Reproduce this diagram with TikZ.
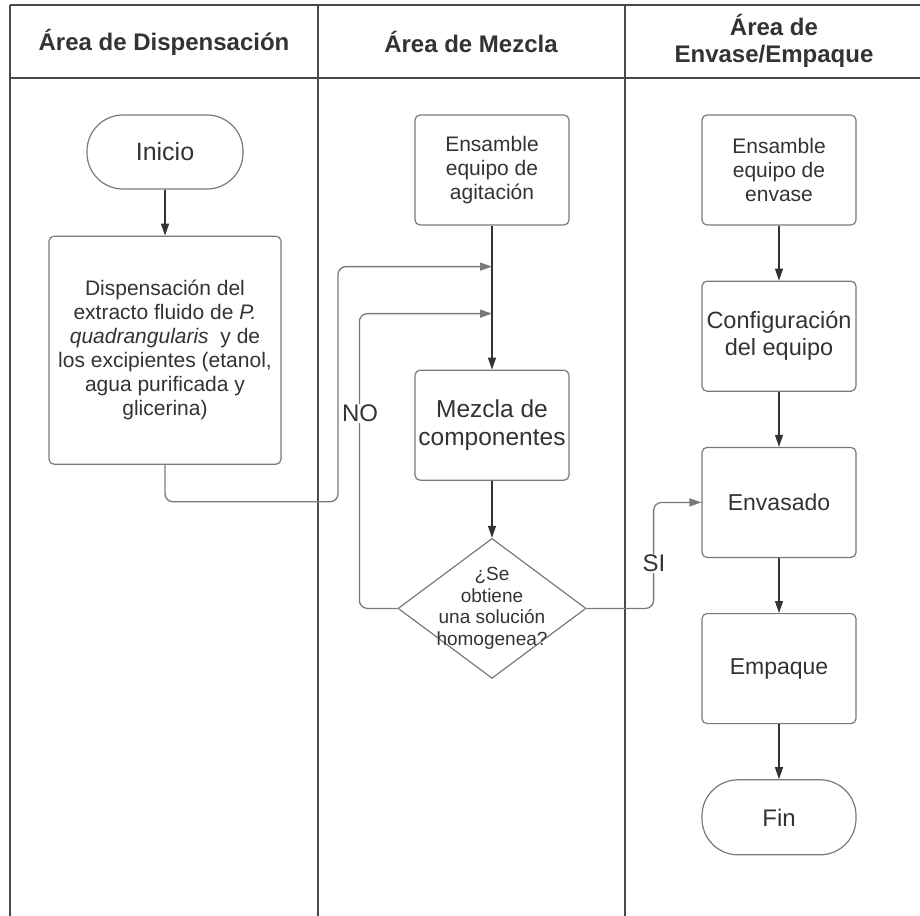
\documentclass[tikz,border=0pt]{standalone}
\usepackage{fontspec}
\setmainfont{Liberation Sans}
\usepackage{xcolor}
\usetikzlibrary{arrows.meta,positioning,shapes.geometric,calc}
\definecolor{ink}{HTML}{333333}
\definecolor{edge}{HTML}{7A7A7A}
\definecolor{lane}{HTML}{4A4A4A}

\begin{document}
\begin{tikzpicture}[
  x=1pt, y=-1pt,
  node distance=55pt,
  box/.style={draw=edge, line width=1.2pt, rounded corners=5pt, align=center,
              text=ink, minimum width=154pt, minimum height=110pt, inner sep=1pt,
              font=\fontsize{21}{24}\selectfont},
  term/.style={box, rounded corners=36pt, minimum height=75pt},
  dec/.style={diamond, draw=edge, line width=1.2pt, align=center, text=ink,
              aspect=1.34, inner sep=-8pt, minimum width=188pt, minimum height=140pt,
              font=\fontsize{19}{21.5}\selectfont},
  arr/.style={-{Triangle[length=12pt,width=8pt]}, draw=ink, line width=1.3pt},
  lp/.style={arr, draw=edge, rounded corners=8pt},
  lbl/.style={fill=white, text=ink, inner sep=1pt, font=\fontsize{24}{26}\selectfont},
  head/.style={text=ink, align=center, font=\bfseries\fontsize{24}{27}\selectfont},
  lanes/.style={draw=lane, line width=1.8pt}
]
\useasboundingbox[fill=white] (0,0) rectangle (920,915);

% swimlanes
\draw[lanes] (10,5) -- (922,5);
\draw[lanes] (10,78) -- (922,78);
\foreach \lx in {10,318,625}
  \draw[lanes] (\lx,5) -- (\lx,917);
\node[head] (h1) at (164,42) {Área de Dispensación};
\node[head] (h2) at (471,42) {Área de Mezcla};
\node[head] (h3) at (774,41) {Área de\\Envase/Empaque};

% dispensacion
\node[term, minimum width=156pt, minimum height=74pt, font=\fontsize{25}{28}\selectfont] (ini) at (165,152) {Inicio};
\node[box, minimum width=232pt, minimum height=228pt, below=46pt of ini] (disp)
  {Dispensación del\\extracto fluido de \textit{P.}\\\textit{quadrangularis}~ y de\\los excipientes (etanol,\\agua purificada y\\glicerina)};

% mezcla
\node[box] (agit) at (492,170) {Ensamble\\equipo de\\agitación};
\node[box, below=144pt of agit, font=\fontsize{24.5}{28}\selectfont] (mez) {Mezcla de\\componentes};
\node[dec, below=57pt of mez] (hom) {¿Se\\obtiene\\una solución\\homogenea?};

% envase / empaque
\node[box] (ensv) at (779,170) {Ensamble\\equipo de\\envase};
\node[box, below=of ensv, font=\fontsize{23.5}{27}\selectfont] (conf) {Configuración\\del equipo};
\node[box, below=of conf, font=\fontsize{23}{26}\selectfont] (envs) {Envasado};
\node[box, below=of envs, font=\fontsize{23}{26}\selectfont] (emp) {Empaque};
\node[term, below=of emp, font=\fontsize{24}{27}\selectfont] (fin) {Fin};

\path (agit.south) ++(0,41) coordinate (j1);
\path (agit.south) ++(0,88) coordinate (j2);

\draw[arr] (ini) -- (disp);
\draw[arr] (agit) -- (mez);
\draw[arr] (mez) -- (hom);
\draw[arr] (ensv) -- (conf);
\draw[arr] (conf) -- (envs);
\draw[arr] (envs) -- (emp);
\draw[arr] (emp) -- (fin);

\draw[lp] (disp.south) -- ++(0,37) -| ($(j1)+(-154,0)$) -- (j1);
\draw[lp] (hom.west) -- ++(-38,0) |- (j2);
\draw[lp] (hom.east) -- ++(67,0) |- (envs.west);

\node[lbl] (no) at (360,413) {NO};
\node[lbl] (si) at (654,563) {SI};
\end{tikzpicture}
\end{document}
